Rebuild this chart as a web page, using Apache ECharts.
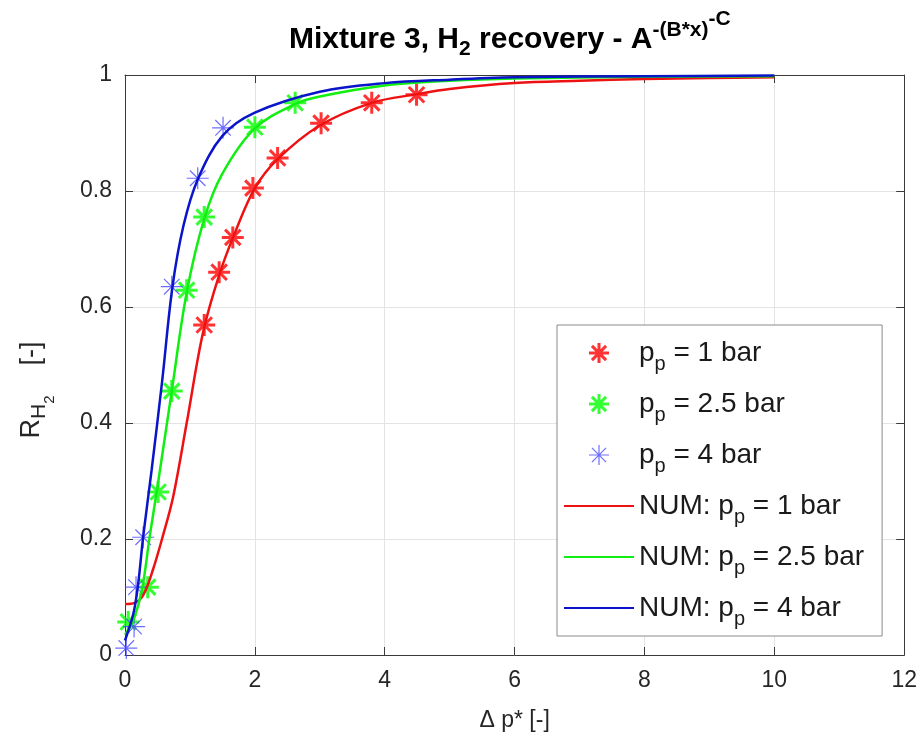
<!DOCTYPE html>
<html>
<head>
<meta charset="utf-8">
<script src="https://cdn.jsdelivr.net/npm/echarts@6/dist/echarts.min.js"></script>
<style>
  html, body { margin: 0; padding: 0; background: #fff; }
  #chart { width: 920px; height: 746px; }
</style>
</head>
<body>
<div id="chart"></div>
<script>
// measured points, [dp*, R]
const exp1bar = [[1.22, 0.569], [1.45, 0.66], [1.66, 0.72], [1.97, 0.805], [2.35, 0.857], [3.02, 0.917], [3.8, 0.952], [4.49, 0.966]];
const exp25bar = [[0.05, 0.057], [0.35, 0.117], [0.51, 0.281], [0.72, 0.455], [0.95, 0.629], [1.22, 0.755], [2.0, 0.91], [2.62, 0.952]];
const exp4bar = [[0.02, 0.012], [0.14, 0.049], [0.17, 0.117], [0.28, 0.203], [0.72, 0.635], [1.12, 0.822], [1.51, 0.909]];

// fitted curves
const num1bar = [[0, 0.088], [0.15, 0.09], [0.28, 0.103], [0.43, 0.147], [0.58, 0.204], [0.74, 0.272], [0.95, 0.40], [1.2, 0.555], [1.45, 0.655], [1.7, 0.73], [2.0, 0.805], [2.35, 0.855], [3.0, 0.913], [3.8, 0.952], [4.5, 0.967], [5, 0.976], [6, 0.986], [7, 0.99], [8, 0.993], [9, 0.995], [10, 0.996]];
const num25bar = [[0, 0.035], [0.13, 0.06], [0.26, 0.112], [0.38, 0.204], [0.5, 0.29], [0.72, 0.455], [0.95, 0.625], [1.22, 0.752], [1.5, 0.83], [2.0, 0.908], [2.62, 0.95], [3, 0.963], [4, 0.982], [5, 0.99], [6, 0.994], [8, 0.997], [10, 0.998]];
const num4bar = [[0, 0.025], [0.13, 0.072], [0.2, 0.12], [0.28, 0.204], [0.41, 0.319], [0.57, 0.47], [0.73, 0.634], [0.9, 0.74], [1.12, 0.82], [1.5, 0.895], [2, 0.935], [3, 0.971], [4, 0.986], [5, 0.992], [6, 0.996], [8, 0.998], [10, 0.999]];

const legendNames = ['p_p = 1 bar', 'p_p = 2.5 bar', 'p_p = 4 bar', 'NUM: p_p = 1 bar', 'NUM: p_p = 2.5 bar', 'NUM: p_p = 4 bar'];

const FONT = '"Liberation Sans", Arial, Helvetica, sans-serif';
const AXIS_COLOR = '#3a3a3a';
const STAR = 'path://M0,-10L0,10M-10,0L10,0M-7.07,-7.07L7.07,7.07M-7.07,7.07L7.07,-7.07';

function starSeries(name, data, color, width) {
  return {
    name: name,
    type: 'scatter',
    data: data,
    symbol: STAR,
    symbolSize: 22,
    symbolKeepAspect: true,
    itemStyle: { color: color, borderColor: color, borderWidth: width },
    z: 2
  };
}
function numSeries(name, data, color) {
  return {
    name: name,
    type: 'line',
    data: data,
    symbol: 'none',
    showSymbol: false,
    smooth: 0.35,
    lineStyle: { color: color, width: 2.5 },
    itemStyle: { color: color },
    z: 3
  };
}

const chart = echarts.init(document.getElementById('chart'));
chart.setOption({
  backgroundColor: '#fff',
  animation: false,
  textStyle: { fontFamily: FONT },
  title: {
    text: 'Mixture 3, H{sub|2} recovery - A{sup1|-(B*x)}{sup2|-C}',
    left: 284,
    top: 4,
    textStyle: {
      fontFamily: FONT, fontSize: 30, fontWeight: 'bold', color: '#000',
      rich: {
        sub: { fontFamily: FONT, fontSize: 21, fontWeight: 'bold', color: '#000', padding: [20, 0, 0, 0] },
        sup1: { fontFamily: FONT, fontSize: 21, fontWeight: 'bold', color: '#000', padding: [0, 0, 18, 0] },
        sup2: { fontFamily: FONT, fontSize: 21, fontWeight: 'bold', color: '#000', padding: [0, 0, 40, 0] }
      }
    }
  },
  grid: { left: 125, right: 15, top: 75, bottom: 91, containLabel: false },
  legend: {
    orient: 'vertical',
    left: 557,
    top: 325,
    itemWidth: 70,
    itemHeight: 20,
    itemGap: 16,
    padding: [14, 18, 7, 6],
    backgroundColor: '#fff',
    borderColor: '#8a8a8a',
    borderWidth: 1,
    borderRadius: 0,
    data: legendNames.map(function (n, i) {
      return i < 3
        ? { name: n, itemStyle: { borderWidth: i === 2 ? 1.2 : 3 } }
        : { name: n, itemStyle: { opacity: 0 } };
    }),
    formatter: function (name) {
      return name.split(/(p_p)/).map(function (s) {
        if (s === 'p_p') return '{n|p}{sub|p}';
        return s ? '{n|' + s + '}' : '';
      }).join('');
    },
    textStyle: {
      fontFamily: FONT, fontSize: 28, color: '#1a1a1a',
      rich: {
        n: { fontFamily: FONT, fontSize: 28, color: '#1a1a1a' },
        sub: { fontFamily: FONT, fontSize: 20, color: '#1a1a1a', padding: [22, 0, 0, 0] }
      }
    }
  },
  xAxis: [{
    type: 'value',
    min: 0, max: 12, interval: 2,
    name: '\u0394 p* [-]',
    nameLocation: 'middle',
    nameGap: 54,
    nameTextStyle: { fontFamily: FONT, fontSize: 23, color: '#262626' },
    axisLine: { show: true, onZero: false, lineStyle: { color: AXIS_COLOR, width: 1 } },
    axisTick: { show: true, inside: true, length: 8, lineStyle: { color: AXIS_COLOR } },
    axisLabel: { fontFamily: FONT, fontSize: 23, color: '#262626', margin: 14 },
    splitLine: { show: true, lineStyle: { color: '#e3e3e3', width: 1 } }
  }, {
    type: 'value',
    position: 'top',
    min: 0, max: 12, interval: 2,
    axisLine: { show: true, onZero: false, lineStyle: { color: AXIS_COLOR, width: 1 } },
    axisTick: { show: true, inside: true, length: 8, lineStyle: { color: AXIS_COLOR } },
    axisLabel: { show: false },
    splitLine: { show: false }
  }],
  yAxis: [{
    type: 'value',
    min: 0, max: 1, interval: 0.2,
    name: '{r|R}{s1|H}{s2|2}{r|    [-]}',
    nameLocation: 'middle',
    nameGap: 68,
    nameRotate: 90,
    nameTextStyle: {
      fontFamily: FONT, fontSize: 27, color: '#262626',
      padding: [0, 50, 0, 0],
      rich: {
        r: { fontFamily: FONT, fontSize: 27, color: '#262626' },
        s1: { fontFamily: FONT, fontSize: 21, color: '#262626', padding: [16, 0, 0, 0] },
        s2: { fontFamily: FONT, fontSize: 15, color: '#262626', padding: [36, 0, 0, 0] }
      }
    },
    axisLine: { show: true, onZero: false, lineStyle: { color: AXIS_COLOR, width: 1 } },
    axisTick: { show: true, inside: true, length: 8, lineStyle: { color: AXIS_COLOR } },
    axisLabel: { fontFamily: FONT, fontSize: 23, color: '#262626', margin: 13 },
    splitLine: { show: true, lineStyle: { color: '#e3e3e3', width: 1 } }
  }, {
    type: 'value',
    position: 'right',
    min: 0, max: 1, interval: 0.2,
    axisLine: { show: true, onZero: false, lineStyle: { color: AXIS_COLOR, width: 1 } },
    axisTick: { show: true, inside: true, length: 8, lineStyle: { color: AXIS_COLOR } },
    axisLabel: { show: false },
    splitLine: { show: false }
  }],
  series: [
    starSeries(legendNames[0], exp1bar, '#ff0000', 3),
    starSeries(legendNames[1], exp25bar, '#00ff00', 3),
    starSeries(legendNames[2], exp4bar, '#4848ff', 1.2),
    numSeries(legendNames[3], num1bar, '#ee1111'),
    numSeries(legendNames[4], num25bar, '#11ee11'),
    numSeries(legendNames[5], num4bar, '#0a14c8')
  ]
});
window.addEventListener('resize', function () { chart.resize(); });
</script>
</body>
</html>
